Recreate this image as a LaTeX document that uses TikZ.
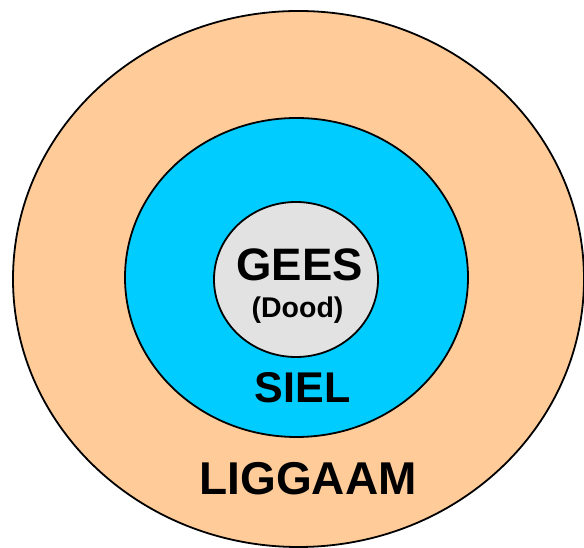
\documentclass[tikz,border=0pt]{standalone}
\usepackage{fontspec}
\setmainfont{Liberation Sans}
\usetikzlibrary{shapes.geometric,positioning}
\definecolor{peach}{HTML}{FFCC99}
\definecolor{skyblue}{HTML}{00CCFF}
\definecolor{lightgrey}{HTML}{E2E2E2}

\begin{document}
\begin{tikzpicture}[x=1pt,y=1pt,line width=1.8pt]
		\tikzstyle{ring}=[ellipse,draw=black,inner sep=0pt]
		\tikzstyle{lbl}=[anchor=base,inner sep=0pt,font=\bfseries]

		\useasboundingbox (0,0) rectangle (584,548);

		\node[ring,fill=peach,minimum width=571pt,minimum height=536pt] (liggaam) at (298.5,269) {};
		\node[ring,fill=skyblue,minimum width=343pt,minimum height=319pt] (siel) at (296.5,270.5) {};
		\node[ring,fill=lightgrey,minimum width=164pt,minimum height=155pt] (gees) at (296,268.5) {};

		\node[lbl,font=\bfseries\fontsize{45.5}{45.5}\selectfont] (geestxt) at (299.5,267) {GEES};
		\node[lbl,font=\bfseries\fontsize{28.5}{28.5}\selectfont] (doodtxt) at (297.5,230) {(Dood)};
		\node[lbl,font=\bfseries\fontsize{43}{43}\selectfont] (sieltxt) at (302.5,145) {SIEL};
		\node[lbl,font=\bfseries\fontsize{46}{46}\selectfont] (liggaamtxt) at (308,53) {LIGGAAM};
	\end{tikzpicture}
\end{document}
